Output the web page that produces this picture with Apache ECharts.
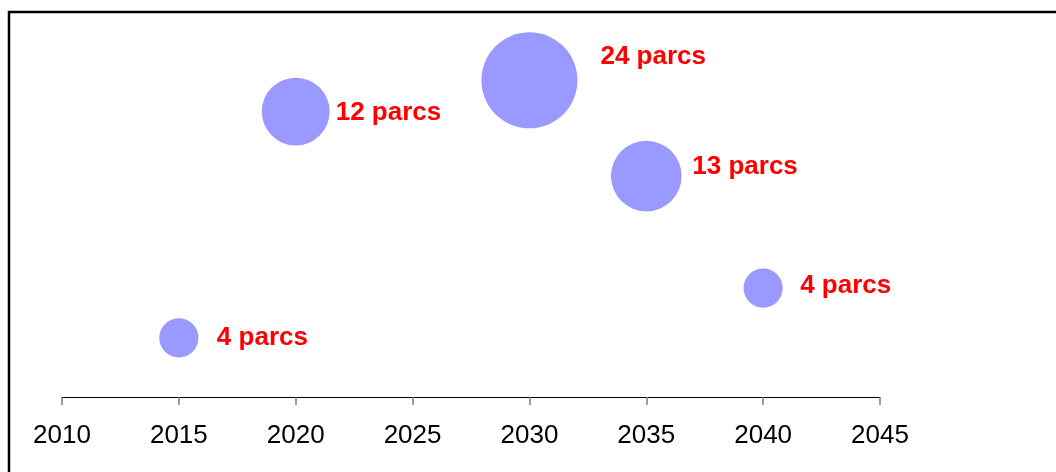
<!DOCTYPE html>
<html>
<head>
<meta charset="utf-8">
<title>parcs</title>
<script src="https://cdn.jsdelivr.net/npm/echarts@6/dist/echarts.min.js"></script>
<style>
    html, body { margin: 0; padding: 0; background: #fff; }
    #chart { width: 1056px; height: 472px; }
</style>
</head>
<body>
<div id="chart"></div>
<script>
// années (axe x)
const years = [2015, 2020, 2030, 2035, 2040];
// position verticale des bulles (axe y caché)
const heights = [1.57, 7.57, 8.4, 5.86, 2.89];
// nombre de parcs = taille des bulles
const parcs = [4, 12, 24, 13, 4];
// graduations de l'axe x
const xTicks = [2010, 2015, 2020, 2025, 2030, 2035, 2040, 2045];

// décalage des étiquettes par rapport au centre de la bulle (px)
const labelOffsets = [[38, 0], [40, 1], [71, -23], [46, -9], [37, -2]];

const chart = echarts.init(document.getElementById('chart'));

const data = years.map((y, i) => ({
    value: [y, heights[i], parcs[i]],
    label: { offset: labelOffsets[i] }
}));

const option = {
    animation: false,
    grid: { left: 62, right: 176, top: 20, bottom: 75 },
    graphic: [
        {
            type: 'rect',
            shape: { x: 9, y: 12, width: 1200, height: 600 },
            style: { fill: 'none', stroke: '#000', lineWidth: 2.5 },
            silent: true
        }
    ],
    xAxis: {
        type: 'value',
        min: xTicks[0],
        max: xTicks[xTicks.length - 1],
        interval: 5,
        splitLine: { show: false },
        axisLine: { show: true, lineStyle: { color: '#000', width: 1 } },
        axisTick: { show: true, length: 8, lineStyle: { color: '#808080', width: 1.5 } },
        axisLabel: {
            color: '#000',
            fontSize: 26,
            fontFamily: 'Liberation Sans, Arial, sans-serif',
            margin: 26,
            formatter: v => String(v)
        }
    },
    yAxis: {
        type: 'value',
        min: 0,
        max: 10,
        show: false
    },
    series: [
        {
            type: 'scatter',
            data: data,
            symbolSize: v => 19.6 * Math.sqrt(v[2]),
            itemStyle: { color: '#9999FF', opacity: 1 },
            label: {
                show: true,
                position: 'inside',
                align: 'left',
                verticalAlign: 'middle',
                formatter: p => p.value[2] + ' parcs',
                color: '#FF0000',
                fontWeight: 'bold',
                fontSize: 26,
                fontFamily: 'Liberation Sans, Arial, sans-serif'
            },
            emphasis: { disabled: true }
        }
    ]
};

chart.setOption(option);
</script>
</body>
</html>
